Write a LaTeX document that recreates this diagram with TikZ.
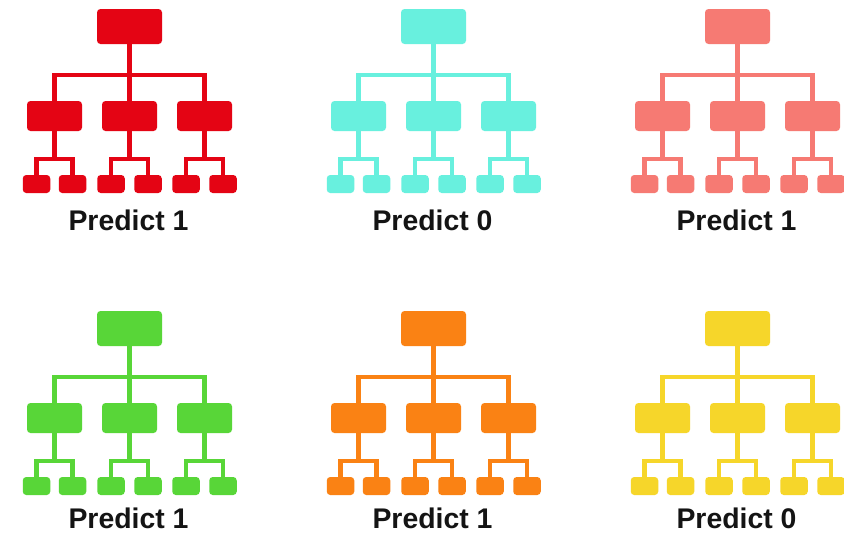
\documentclass[tikz,border=0pt]{standalone}
\usepackage{fontspec}
\setmainfont{Liberation Sans}
\definecolor{cred}{RGB}{228,4,20}
\definecolor{ccyan}{RGB}{104,240,222}
\definecolor{csalmon}{RGB}{246,122,115}
\definecolor{cgreen}{RGB}{88,214,56}
\definecolor{corange}{RGB}{250,130,20}
\definecolor{cyellow}{RGB}{246,214,42}
\definecolor{ctext}{RGB}{20,20,20}
\tikzset{
  box/.style={rectangle, rounded corners=3.5pt, inner sep=0pt, draw=none, fill=#1},
  bigbox/.style={box=#1, minimum width=65pt, minimum height=35pt},
  midbox/.style={box=#1, minimum width=55pt, minimum height=30pt},
  leafbox/.style={box=#1, minimum width=27.5pt, minimum height=18pt},
  link/.style={draw=#1, line width=4.5pt, line join=miter},
  lbl/.style={anchor=base, text=ctext, font=\bfseries\fontsize{28.4}{30}\selectfont, inner sep=0pt}
}
\newcommand\mytree[6]{% prefix, x, y, colour, label, label baseline
\begin{scope}[shift={(#2,#3)}]
  \node[bigbox=#4] (#1r) at (129.5,26.5) {};
  \node[midbox=#4] (#1a) at (54.5,116) {};
  \node[midbox=#4] (#1b) at (129.5,116) {};
  \node[midbox=#4] (#1c) at (204.5,116) {};
  \node[leafbox=#4] (#1a1) at (36.5,184) {};
  \node[leafbox=#4] (#1a2) at (72.5,184) {};
  \node[leafbox=#4] (#1b1) at (111,184) {};
  \node[leafbox=#4] (#1b2) at (148,184) {};
  \node[leafbox=#4] (#1c1) at (186,184) {};
  \node[leafbox=#4] (#1c2) at (223,184) {};
  \coordinate (#1j) at (129.5,75);
  \coordinate (#1aj) at (54.5,159);
  \coordinate (#1bj) at (129.5,159);
  \coordinate (#1cj) at (204.5,159);
  \draw[link=#4] (#1r) -- (#1j);
  \draw[link=#4] (#1j) -| (#1a);
  \draw[link=#4] (#1j) -- (#1b);
  \draw[link=#4] (#1j) -| (#1c);
  \draw[link=#4] (#1a) -- (#1aj);
  \draw[link=#4] (#1aj) -| (#1a1);
  \draw[link=#4] (#1aj) -| (#1a2);
  \draw[link=#4] (#1b) -- (#1bj);
  \draw[link=#4] (#1bj) -| (#1b1);
  \draw[link=#4] (#1bj) -| (#1b2);
  \draw[link=#4] (#1c) -- (#1cj);
  \draw[link=#4] (#1cj) -| (#1c1);
  \draw[link=#4] (#1cj) -| (#1c2);
  \node[lbl] (#1t) at (128.5,#6) {#5};
\end{scope}}
\begin{document}
\begin{tikzpicture}[x=1pt,y=-1pt]
  \useasboundingbox[fill=white] (0,0) rectangle (844,533);
  \mytree{A}{0}{0}{cred}{Predict 1}{230}
  \mytree{B}{304}{0}{ccyan}{Predict 0}{230}
  \mytree{C}{608}{0}{csalmon}{Predict 1}{230}
  \mytree{D}{0}{302}{cgreen}{Predict 1}{226}
  \mytree{E}{304}{302}{corange}{Predict 1}{226}
  \mytree{F}{608}{302}{cyellow}{Predict 0}{226}
\end{tikzpicture}
\end{document}
